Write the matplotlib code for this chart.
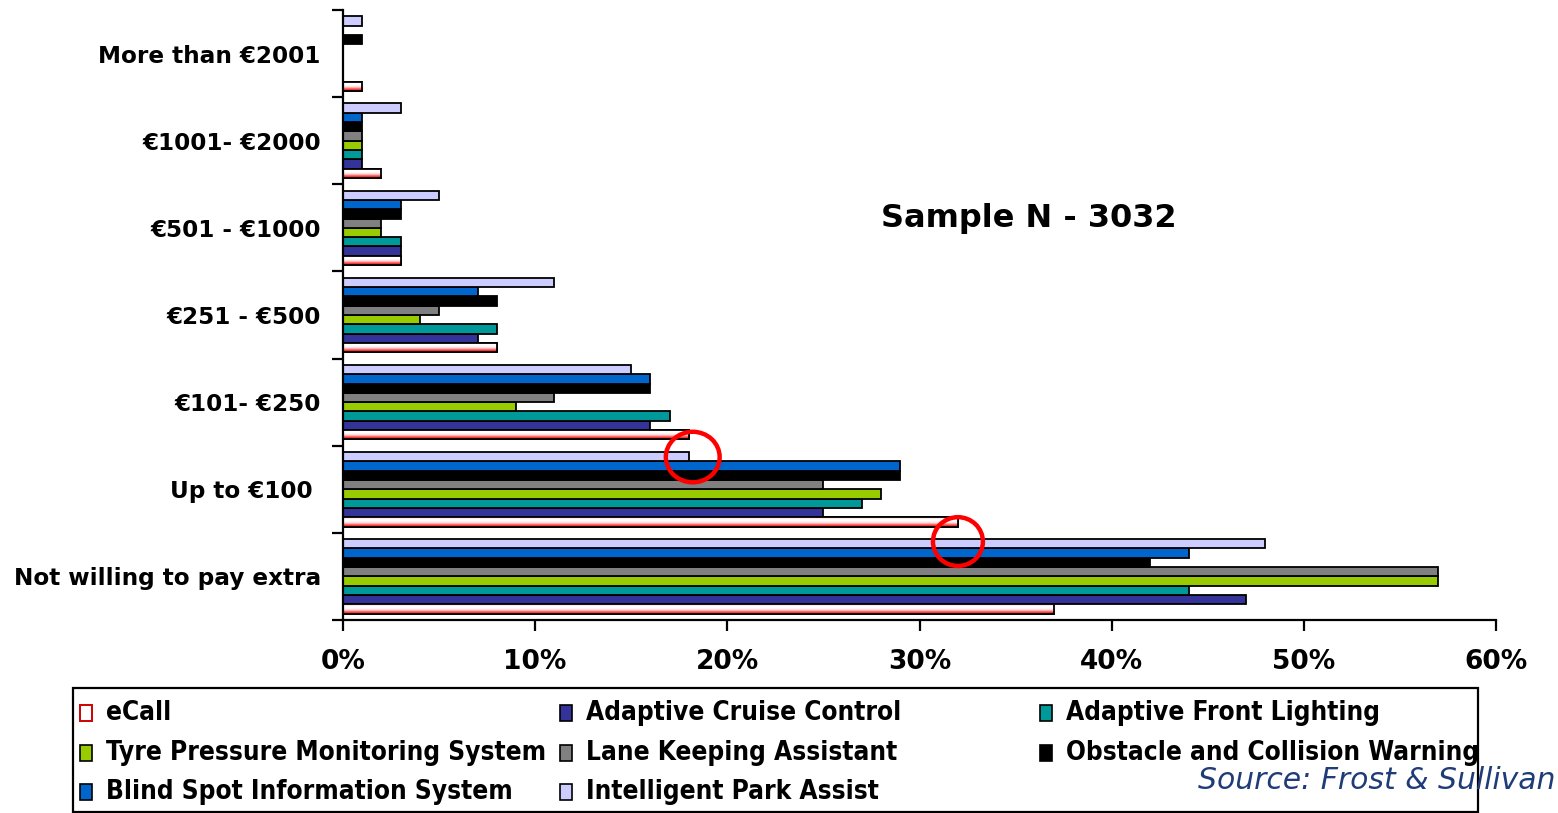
import matplotlib
matplotlib.use("Agg")
import matplotlib.pyplot as plt
import numpy as np
from matplotlib.patches import Rectangle, Ellipse
from matplotlib.colors import LinearSegmentedColormap

# price bands, bottom to top on the chart
bands = ["Not willing to pay extra", "Up to €100 ", "€101- €250", "€251 - €500",
         "€501 - €1000", "€1001- €2000", "More than €2001"]

# share of respondents (%) per feature, same order as bands
ecall = [37, 32, 18, 8, 3, 2, 1]
acc = [47, 25, 16, 7, 3, 1, 0]
afl = [44, 27, 17, 8, 3, 1, 0]
tpms = [57, 28, 9, 4, 2, 1, 0]
lka = [57, 25, 11, 5, 2, 1, 0]
ocw = [42, 29, 16, 8, 3, 1, 1]
bsis = [44, 29, 16, 7, 3, 1, 0]
ipa = [48, 18, 15, 11, 5, 3, 1]

features = ["eCall", "Adaptive Cruise Control", "Adaptive Front Lighting",
            "Tyre Pressure Monitoring System", "Lane Keeping Assistant",
            "Obstacle and Collision Warning", "Blind Spot Information System",
            "Intelligent Park Assist"]
series = [ecall, acc, afl, tpms, lka, ocw, bsis, ipa]
colors = ["#ffffff", "#333399", "#009999", "#99cc00", "#808080",
          "#000000", "#0066cc", "#ccccff"]

ecall_grad = LinearSegmentedColormap.from_list(
    "ecall", ["#ffb0b0", "#ffffff", "#ffffff", "#ffd6d6", "#ff5050", "#e00000"])

fig = plt.figure(figsize=(15.58, 8.13), dpi=100)
ax = fig.add_axes([343 / 1558, 1 - 620 / 813, (1496 - 343) / 1558, 610 / 813])

y = np.arange(len(bands))
group = 0.855
bh = group / len(series)

for i, (name, vals, col) in enumerate(zip(features, series, colors)):
    pos = y - group / 2 + bh / 2 + i * bh
    bars = ax.barh(pos, vals, height=bh, color=col, edgecolor="black",
                   linewidth=1.3, zorder=2)
    if name == "eCall":
        grad = np.linspace(0, 1, 50).reshape(-1, 1)
        for b in bars:
            x0, y0 = b.get_x(), b.get_y()
            im = ax.imshow(grad, cmap=ecall_grad, aspect="auto", origin="upper",
                           extent=[x0, x0 + b.get_width(), y0, y0 + b.get_height()],
                           zorder=2.5)
            im.set_clip_path(b)
            ax.add_patch(Rectangle((x0, y0), b.get_width(), b.get_height(),
                                   fill=False, edgecolor="black", linewidth=1.3,
                                   zorder=3))

ax.set_xlim(0, 60)
ax.set_ylim(-0.5, len(bands) - 0.5)

for s in ["top", "right"]:
    ax.spines[s].set_visible(False)
for s in ["left", "bottom"]:
    ax.spines[s].set_linewidth(1.6)

ax.set_xticks(np.arange(0, 61, 10))
ax.set_xticklabels([f"{v}%" for v in range(0, 61, 10)], fontsize=19,
                   fontweight="bold")
ax.tick_params(axis="x", direction="out", length=8, width=1.6, pad=13)

ax.set_yticks(np.arange(-0.5, len(bands), 1.0))
ax.set_yticklabels([])
ax.set_yticks(y, minor=True)
ax.set_yticklabels(bands, minor=True, fontsize=16.7, fontweight="bold")
ax.tick_params(axis="y", which="major", direction="out", length=8, width=1.6)
ax.tick_params(axis="y", which="minor", length=0, pad=16)

# highlight rings
ax.add_patch(Ellipse((18.2, 1.37), 2.8, 0.58, fill=False, edgecolor="#ff0000",
                     linewidth=3.2, zorder=5, clip_on=False))
ax.add_patch(Ellipse((32.0, 0.40), 2.6, 0.56, fill=False, edgecolor="#ff0000",
                     linewidth=3.2, zorder=5, clip_on=False))

ax.text(0.595, 0.659, "Sample N - 3032", transform=ax.transAxes, ha="center",
        va="center", fontsize=23, fontweight="bold")

# legend box
fig.add_artist(Rectangle((73 / 1558, 1 / 813), (1478 - 73) / 1558, (812 - 688) / 813,
                         transform=fig.transFigure, fill=False, edgecolor="black",
                         linewidth=1.6))
col_x = [80, 560, 1040]
row_y = [713, 753, 792]
for k in range(len(features)):
    r, c = divmod(k, 3)
    hx, hy = col_x[c], row_y[r]
    fig.add_artist(Rectangle((hx / 1558, 1 - (hy + 8) / 813), 12 / 1558, 16 / 813,
                             transform=fig.transFigure, facecolor=colors[k],
                             edgecolor="black", linewidth=1.2))
    if features[k] == "eCall":
        fig.add_artist(Rectangle((hx / 1558, 1 - (hy + 8) / 813), 12 / 1558, 16 / 813,
                                 transform=fig.transFigure, facecolor="none",
                                 edgecolor="#ee0000", linewidth=1.2))
    fig.text((hx + 26) / 1558, 1 - hy / 813, features[k], ha="left", va="center",
             fontsize=18.8, fontweight="bold", fontstretch="condensed")

fig.text(1555 / 1558, 1 - 780 / 813, "Source: Frost & Sullivan", ha="right",
         va="center", fontsize=21.5, style="italic", color="#1f3c78")

fig.savefig("out.png", dpi=100)
